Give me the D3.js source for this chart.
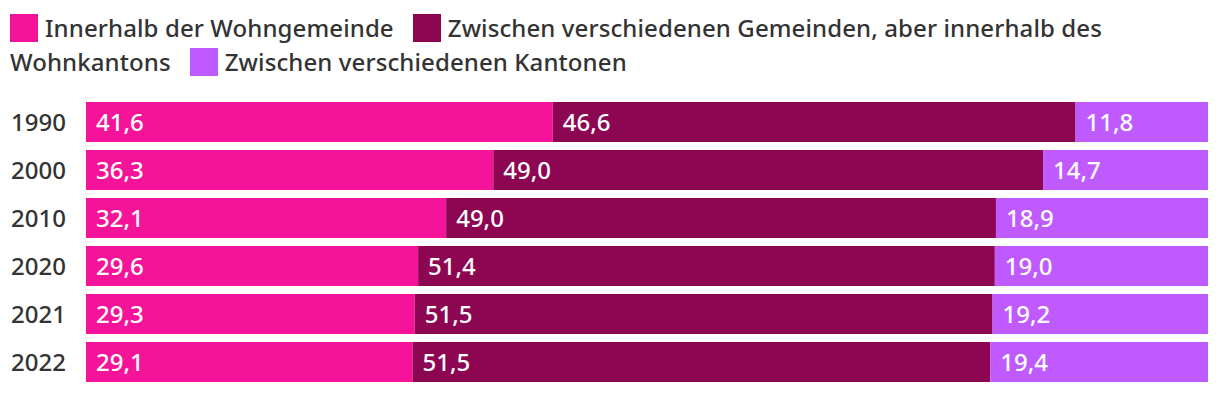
<!DOCTYPE html>
<html>
<head>
<meta charset="utf-8">
<script src="https://cdn.jsdelivr.net/npm/d3@7"></script>
<style>
  body { margin: 0; background: #fff; font-family: "Noto Sans", sans-serif; font-weight: 500; }
  #legend { position: absolute; left: 10px; top: 11px; width: 1200px; font-size: 24px; line-height: 34px; color: #333; letter-spacing: 0.1px; }
  .item { margin-right: 19px; }
  .swatch { display: inline-block; width: 28px; height: 28px; vertical-align: -5px; margin-right: 7px; }
  svg { position: absolute; left: 0; top: 0; }
</style>
</head>
<body>
<div id="legend"></div>
<div id="chart"></div>
<script>
// data
var years = ["1990", "2000", "2010", "2020", "2021", "2022"];
var seriesNames = ["Innerhalb der Wohngemeinde", "Zwischen verschiedenen Gemeinden, aber innerhalb des Wohnkantons", "Zwischen verschiedenen Kantonen"];
var inGemeinde = [41.6, 36.3, 32.1, 29.6, 29.3, 29.1];
var inKanton = [46.6, 49.0, 49.0, 51.4, 51.5, 51.5];
var zwKantone = [11.8, 14.7, 18.9, 19.0, 19.2, 19.4];
var colors = ["#f5139a", "#8c0652", "#bf5aff"];

var width = 1220, height = 394;
var margin = { top: 102, right: 12, bottom: 12, left: 86 };

// legend (html so the long label wraps like the original)
var legend = d3.select("#legend");
seriesNames.forEach(function (name, i) {
  var item = legend.append("span").attr("class", "item");
  item.append("span").attr("class", "swatch").style("background", colors[i]);
  item.append(() => document.createTextNode(name));
});

var svg = d3.select("#chart").append("svg")
  .attr("width", width)
  .attr("height", height);

var x = d3.scaleLinear().domain([0, 100]).range([margin.left, width - margin.right]);
var y = d3.scaleBand().domain(years)
  .range([margin.top, margin.top + 48 * years.length - 8])
  .paddingInner(8 / 48).paddingOuter(0);

var rows = years.map(function (yr, i) {
  return { year: yr, values: [inGemeinde[i], inKanton[i], zwKantone[i]] };
});

var segs = [];
rows.forEach(function (r) {
  var start = 0;
  r.values.forEach(function (v, k) {
    segs.push({ year: r.year, k: k, x0: start, x1: start + v, v: v });
    start += v;
  });
});

svg.selectAll("rect.seg")
  .data(segs)
  .enter()
  .append("rect")
  .attr("class", "seg")
  .attr("x", d => x(d.x0))
  .attr("width", d => x(d.x1) - x(d.x0))
  .attr("y", d => y(d.year))
  .attr("height", y.bandwidth())
  .attr("fill", d => colors[d.k]);

svg.selectAll("text.val")
  .data(segs)
  .enter()
  .append("text")
  .attr("class", "val")
  .attr("x", d => x(d.x0) + 10)
  .attr("y", d => y(d.year) + y.bandwidth() / 2)
  .attr("dy", "0.36em")
  .attr("fill", "#fff")
  .style("font-size", "24px")
  .text(d => d3.format(".1f")(d.v).replace(".", ","));

// year axis
var axis = svg.append("g")
  .attr("transform", "translate(" + (margin.left - 20) + ",0)")
  .call(d3.axisLeft(y).tickSize(0).tickPadding(0));
axis.select(".domain").remove();
axis.selectAll("text")
  .style("font-size", "24px")
  .style("font-family", "Noto Sans, sans-serif")
  .style("font-weight", 500)
  .attr("fill", "#333")
  .attr("dy", "0.36em");
</script>
</body>
</html>
